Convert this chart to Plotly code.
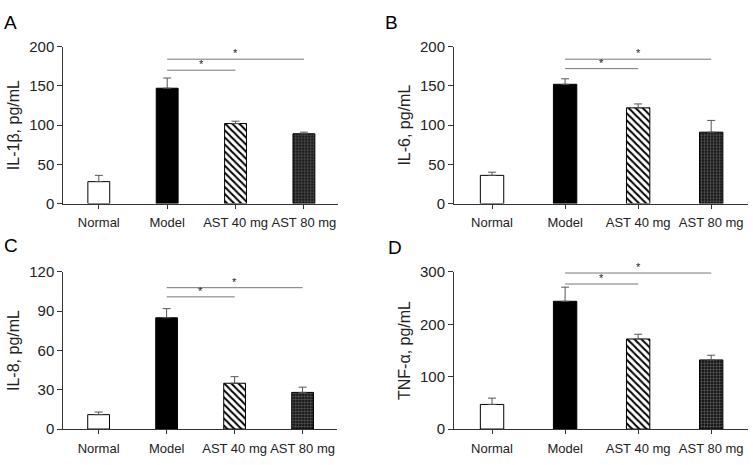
import plotly.graph_objects as go

categories = ["Normal", "Model", "AST 40 mg", "AST 80 mg"]

il1b_mean = [28, 147, 102, 89]
il1b_err = [8, 13, 3, 2]
il6_mean = [36, 152, 122, 91]
il6_err = [4, 7, 5, 15]
il8_mean = [11, 85, 35, 28]
il8_err = [2, 7, 5, 4]
tnf_mean = [47, 244, 172, 132]
tnf_err = [12, 27, 9, 9]

# significance brackets: (from group, to group, height)
il1b_sig = [(1, 3, 184), (1, 2, 170)]
il6_sig = [(1, 3, 184), (1, 2, 172)]
il8_sig = [(1, 3, 108), (1, 2, 101)]
tnf_sig = [(1, 3, 298), (1, 2, 277)]

panels = [
    dict(letter="A", title="IL-1β, pg/mL", mean=il1b_mean, err=il1b_err, sig=il1b_sig,
         ymax=200, dtick=50, xdom=[0.084, 0.449], ydom=[0.5656, 0.916], lx=0.002, ly=0.997),
    dict(letter="B", title="IL-6, pg/mL", mean=il6_mean, err=il6_err, sig=il6_sig,
         ymax=200, dtick=50, xdom=[0.603, 0.993], ydom=[0.5656, 0.916], lx=0.509, ly=0.997),
    dict(letter="C", title="IL-8, pg/mL", mean=il8_mean, err=il8_err, sig=il8_sig,
         ymax=120, dtick=30, xdom=[0.084, 0.447], ydom=[0.0624, 0.413], lx=0.002, ly=0.499),
    dict(letter="D", title="TNF-α, pg/mL", mean=tnf_mean, err=tnf_err, sig=tnf_sig,
         ymax=300, dtick=100, xdom=[0.603, 0.993], ydom=[0.0624, 0.413], lx=0.513, ly=0.495),
]

FONT = "Liberation Sans, Arial, sans-serif"
INK = "#222222"
AXIS = "#333333"
SIG = "#777777"

# bar styles per group: Normal, Model, AST 40 mg, AST 80 mg
bar_styles = [
    dict(color="white"),
    dict(color="black"),
    dict(color="white", pattern=dict(shape="\\", fgcolor="black", bgcolor="white",
                                     size=5, solidity=0.4, fillmode="replace")),
    dict(color="#1a1a1a", pattern=dict(shape="+", fgcolor="#8a8a8a", bgcolor="#1a1a1a",
                                       size=3, solidity=0.2, fillmode="replace")),
]

fig = go.Figure()
layout = dict(width=753, height=465, margin=dict(l=0, r=0, t=0, b=0),
              paper_bgcolor="white", plot_bgcolor="white", showlegend=False,
              barmode="overlay", font=dict(family=FONT, color=INK, size=13))
annotations = []
shapes = []

for i, p in enumerate(panels):
    n = i + 1
    xa = "x" if n == 1 else f"x{n}"
    ya = "y" if n == 1 else f"y{n}"
    xs = list(range(len(categories)))
    for k in xs:
        fig.add_trace(go.Bar(
            x=[k], y=[p["mean"][k]], width=0.32, xaxis=xa, yaxis=ya,
            marker=dict(line=dict(color="black", width=1), **bar_styles[k]),
            error_y=dict(type="data", array=[p["err"][k]], arrayminus=[0], symmetric=False,
                         color="#555555", thickness=1, width=4),
        ))
    layout[f"xaxis{n if n > 1 else ''}"] = dict(
        domain=p["xdom"], anchor=ya, range=[-0.52, 3.5], tickvals=xs, ticktext=categories,
        showline=True, linecolor=AXIS, linewidth=1, ticks="outside", ticklen=4,
        tickcolor=AXIS, showgrid=False, zeroline=False, ticklabelstandoff=3,
        tickfont=dict(size=13, color=INK))
    layout[f"yaxis{n if n > 1 else ''}"] = dict(
        domain=p["ydom"], anchor=xa, range=[0, p["ymax"]], dtick=p["dtick"],
        showline=True, linecolor=AXIS, linewidth=1, ticks="outside", ticklen=5,
        tickcolor=AXIS, showgrid=False, zeroline=False,
        tickfont=dict(size=15, color=INK),
        title=dict(text=p["title"], font=dict(size=16, color=INK), standoff=5))
    for a, b, h in p["sig"]:
        shapes.append(dict(type="line", xref=xa, yref=ya, x0=a, x1=b, y0=h, y1=h,
                           line=dict(color=SIG, width=1)))
        annotations.append(dict(x=(a + b) / 2, y=h, xref=xa, yref=ya, text="*",
                                showarrow=False, yanchor="bottom", yshift=-2,
                                font=dict(size=11, color=INK)))
    annotations.append(dict(x=p["lx"], y=p["ly"], xref="paper", yref="paper",
                            text=p["letter"], showarrow=False,
                            xanchor="left", yanchor="top",
                            font=dict(size=19, color="black")))

layout["annotations"] = annotations
layout["shapes"] = shapes
fig.update_layout(**layout)
fig.write_html("out.html", config={"displayModeBar": False},
               post_script="document.body.style.margin='0';")
